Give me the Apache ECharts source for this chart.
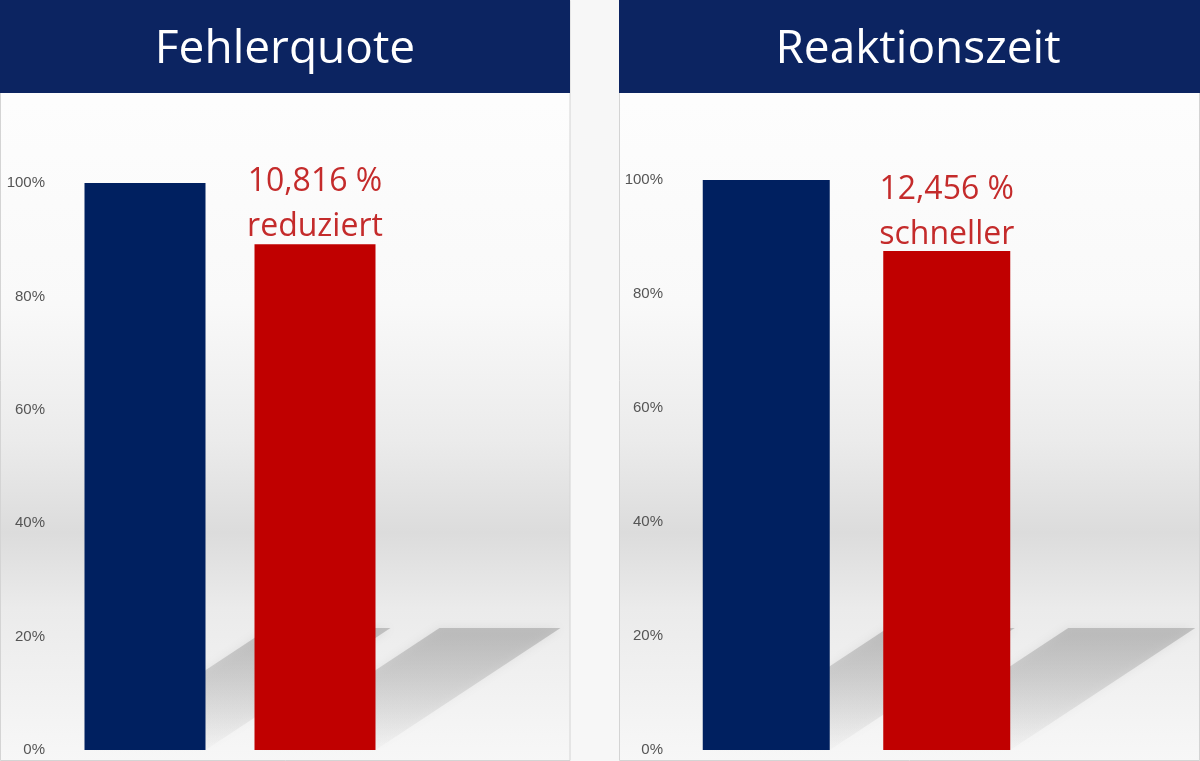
<!DOCTYPE html>
<html>
<head>
<meta charset="utf-8">
<script src="https://cdn.jsdelivr.net/npm/echarts@6/dist/echarts.min.js"></script>
<style>
html,body{margin:0;padding:0;background:#f7f7f7;}
#chart{width:1200px;height:761px;}
</style>
</head>
<body>
<div id="chart"></div>
<script>
// ---- data ----
const categories = ['Vorher', 'Nachher'];
const errorRateValues = [100, 89.184];
const reactionTimeValues = [100, 87.544];
const panelTitles = ['Fehlerquote', 'Reaktionszeit'];
const annotationWords = ['reduziert', 'schneller'];
const yTickValues = [0, 20, 40, 60, 80, 100];

// ---- style ----
const NAVY = '#002060';
const RED = '#c00000';
const HEADER = '#0c2461';
const ANNOT = '#c42b2b';

const chart = echarts.init(document.getElementById('chart'));

function fmtReduction(v) {
  return (100 - v).toFixed(3).replace('.', ',') + ' %';
}

const bgGradient = {
  type: 'linear', x: 0, y: 0, x2: 0, y2: 1,
  colorStops: [
    { offset: 0, color: '#ffffff' },
    { offset: 0.4, color: '#f9f9f9' },
    { offset: 0.58, color: '#ebebeb' },
    { offset: 0.70, color: '#dcdcdc' },
    { offset: 0.80, color: '#ebebeb' },
    { offset: 1, color: '#f7f7f7' }
  ]
};

function shadowSeries(gridIdx, values, barW) {
  return {
    type: 'custom',
    xAxisIndex: gridIdx, yAxisIndex: gridIdx,
    z: 1, silent: true,
    data: values.map((v, i) => [i, v]),
    renderItem: function (params, api) {
      const base = api.coord([api.value(0), 0]);
      const xl = base[0] - barW / 2, xr = base[0] + barW / 2, y0 = base[1];
      const dx = 185, dy = 122;
      return {
        type: 'polygon',
        shape: { points: [[xl, y0], [xr, y0], [xr + dx, y0 - dy], [xl + dx, y0 - dy]] },
        style: {
          fill: {
            type: 'linear', x: 0, y: 0, x2: 0, y2: 1,
            colorStops: [
              { offset: 0, color: 'rgba(150,150,150,0.5)' },
              { offset: 1, color: 'rgba(150,150,150,0.03)' }
            ]
          },
          shadowBlur: 10, shadowColor: 'rgba(150,150,150,0.4)'
        }
      };
    }
  };
}

function barSeries(gridIdx, values, barW, word, dist) {
  return {
    type: 'bar',
    xAxisIndex: gridIdx, yAxisIndex: gridIdx,
    barWidth: barW,
    z: 3,
    data: values.map((v, i) => ({
      value: v,
      itemStyle: { color: i === 0 ? NAVY : RED },
      label: i === 0 ? { show: false } : {
        show: true,
        position: 'top',
        distance: dist,
        formatter: function (p) { return fmtReduction(p.value) + '\n' + word; },
        color: ANNOT,
        fontFamily: 'Open Sans, sans-serif',
        fontSize: 32,
        lineHeight: 45,
        align: 'center'
      }
    }))
  };
}

const yAxisCommon = {
  type: 'value',
  min: 0, max: 100, interval: 20,
  axisLine: { show: false },
  axisTick: { show: false },
  splitLine: { show: false },
  axisLabel: {
    formatter: '{value}%',
    color: '#555555',
    fontFamily: 'Liberation Sans, sans-serif',
    fontSize: 15
  }
};

const xAxisCommon = {
  type: 'category',
  data: categories,
  axisLine: { show: false },
  axisTick: { show: false },
  axisLabel: { show: false }
};

const option = {
  backgroundColor: '#f7f7f7',
  animation: false,
  graphic: [
    { type: 'rect', z: -10, shape: { x: 0.5, y: 0.5, width: 569.5, height: 760 },
      style: { fill: bgGradient, stroke: '#d4d4d4', lineWidth: 1 } },
    { type: 'rect', z: -10, shape: { x: 619.5, y: 0.5, width: 580, height: 760 },
      style: { fill: bgGradient, stroke: '#d4d4d4', lineWidth: 1 } },
    { type: 'rect', z: -5, shape: { x: 0, y: 0, width: 570, height: 93 }, style: { fill: HEADER } },
    { type: 'rect', z: -5, shape: { x: 619, y: 0, width: 581, height: 93 }, style: { fill: HEADER } },
    { type: 'text', z: 10, x: 285, y: 50,
      style: { text: panelTitles[0], fill: '#ffffff', fontSize: 46, fontFamily: 'Open Sans, sans-serif',
               align: 'center', verticalAlign: 'middle' } },
    { type: 'text', z: 10, x: 918, y: 50,
      style: { text: panelTitles[1], fill: '#ffffff', fontSize: 46, fontFamily: 'Open Sans, sans-serif',
               align: 'center', verticalAlign: 'middle' } }
  ],
  grid: [
    { left: 60, width: 340, top: 183, height: 567, containLabel: false },
    { left: 676, width: 361, top: 180, height: 570, containLabel: false }
  ],
  xAxis: [
    Object.assign({ gridIndex: 0 }, xAxisCommon),
    Object.assign({ gridIndex: 1 }, xAxisCommon)
  ],
  yAxis: [
    Object.assign({ gridIndex: 0 }, yAxisCommon, { axisLabel: Object.assign({}, yAxisCommon.axisLabel, { margin: 15 }) }),
    Object.assign({ gridIndex: 1 }, yAxisCommon, { axisLabel: Object.assign({}, yAxisCommon.axisLabel, { margin: 13 }) })
  ],
  series: [
    shadowSeries(0, errorRateValues, 121),
    shadowSeries(1, reactionTimeValues, 127),
    barSeries(0, errorRateValues, 121, annotationWords[0], -5),
    barSeries(1, reactionTimeValues, 127, annotationWords[1], -6)
  ]
};

chart.setOption(option);
</script>
</body>
</html>
